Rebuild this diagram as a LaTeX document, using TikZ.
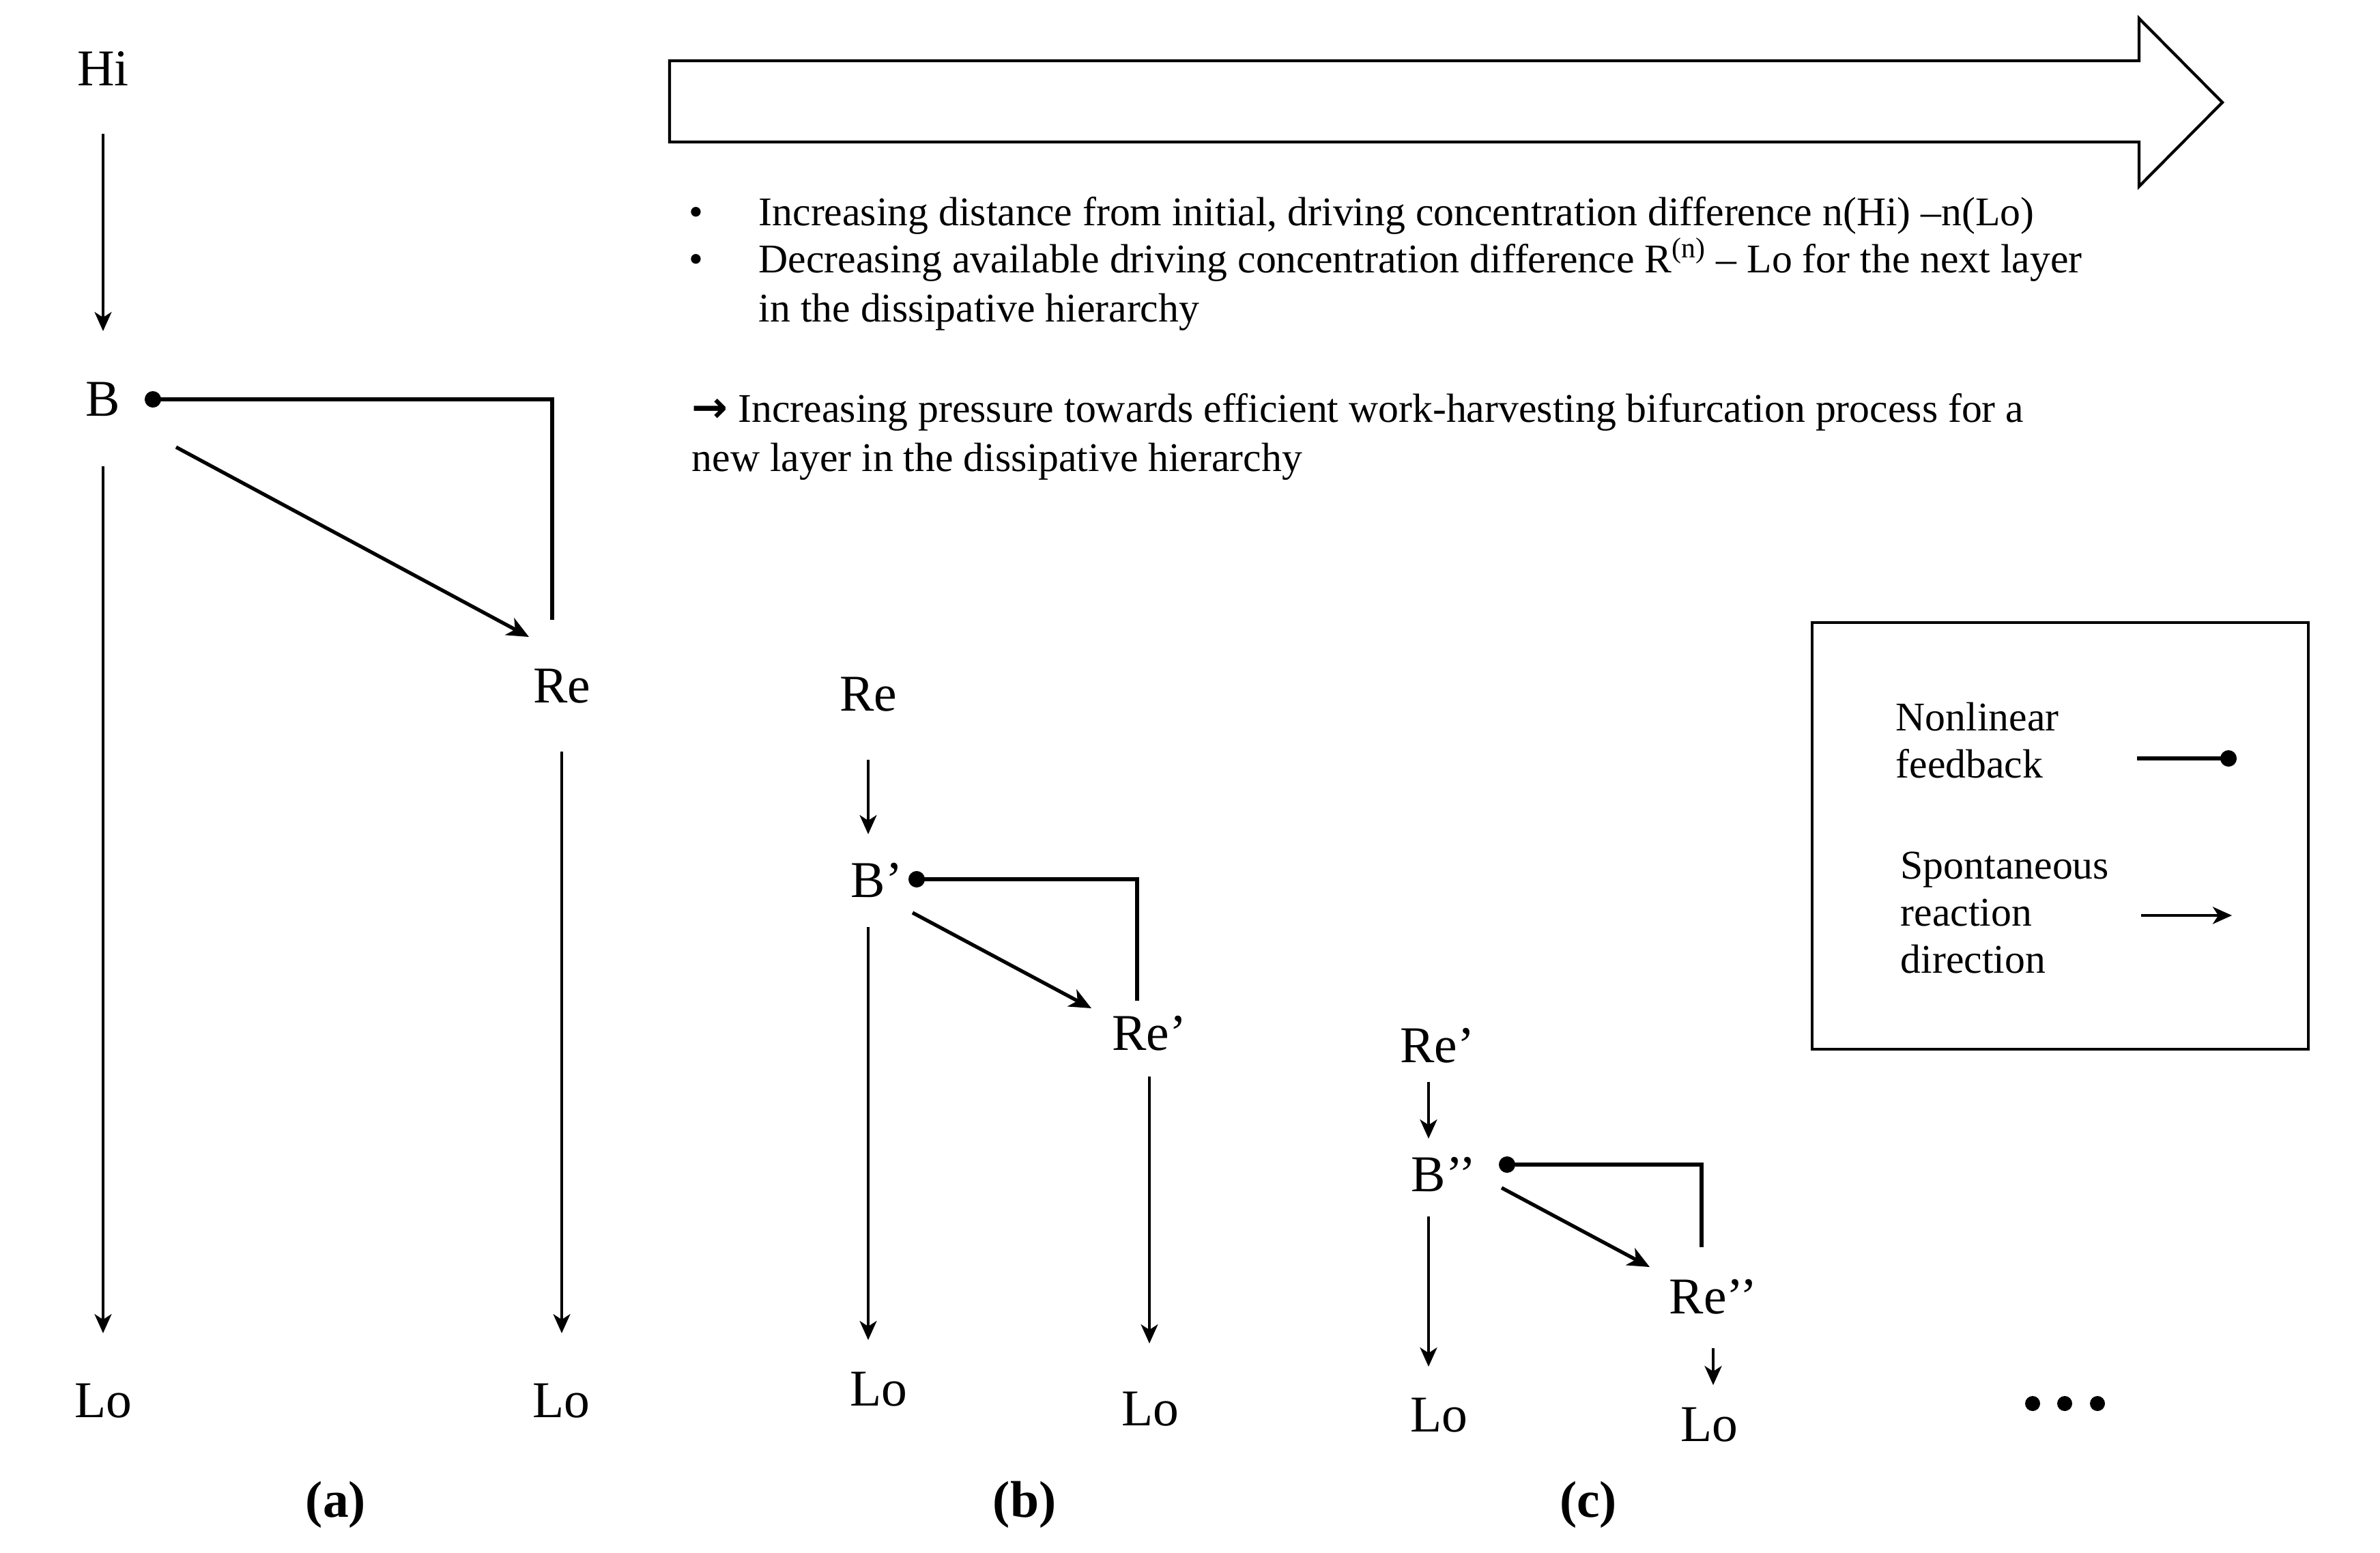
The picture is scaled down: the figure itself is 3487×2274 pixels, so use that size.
\documentclass[tikz,border=0pt]{standalone}
\usepackage{fontspec}
\setmainfont{Liberation Serif}
\newfontfamily\arrowfont{DejaVu Sans}
\usetikzlibrary{positioning,arrows.meta,calc}

\begin{document}
\begin{tikzpicture}[x=0.1mm,y=-0.1mm,
      lbl/.style={font=\fontsize{21.5}{24}\selectfont,inner sep=0pt},
      tag/.style={font=\fontsize{21.5}{24}\selectfont\bfseries,inner sep=0pt},
      txt/.style={font=\fontsize{17}{20.3}\selectfont,inner sep=0pt,anchor=base west},
      key/.style={txt,font=\fontsize{17}{19.6}\selectfont,align=left},
      rxn/.style={-{Stealth[length=2.8mm,width=2.5mm,inset=0.8mm]},line width=1pt},
      diag/.style={rxn,line width=1.5pt,-{Stealth[length=3.2mm,width=2.8mm,inset=0.9mm]}},
      fbk/.style={-{Circle[length=2.4mm]},line width=1.5pt},
      gaps/.style 2 args={shorten <=#1mm,shorten >=#2mm},
      bigarrow/.style={line width=1.2pt,line join=miter}]
    \useasboundingbox (0,0) rectangle (3487,2274);
    % direction arrow and notes (multi-line nodes sit on their last baseline)
    \draw[bigarrow] (981,89) -- (3134,89) -- (3134,27) -- (3256,150) -- (3134,273) -- (3134,208) -- (981,208) -- cycle;
    \node[txt,anchor=base] (dot1) at (1020,330) {•};
    \node[txt] (item1) at (1111,330) {Increasing distance from initial, driving concentration difference n(Hi) –n(Lo)};
    \node[txt,anchor=base] (dot2) at (1020,399) {•};
    \node[txt,align=left] (item2) at (1111,471) {Decreasing available driving concentration difference R\textsuperscript{(n)} – Lo for the next layer\\in the dissipative hierarchy};
    \node[txt,align=left] (concl) at (1013,690) {{\arrowfont\bfseries\fontsize{18}{18}\selectfont →} Increasing pressure towards efficient work-harvesting bifurcation process for a\\new layer in the dissipative hierarchy};
    % (a)
    \node[lbl] (hi) at (151,100) {Hi};
    \node[lbl] (ba) at (151,585) {B};
    \node[lbl] (rea) at (823,1005) {Re};
    \node[lbl] (loa1) at (151,2052) {Lo};
    \node[lbl] (loa2) at (822,2052) {Lo};
    \node[tag] (taga) at (492,2204) {(a)};
    \draw[rxn,gaps={9.6}{10}] (hi.center) -- (hi.center |- ba.center);
    \draw[rxn,gaps={9.8}{9.9}] (ba.center) -- (ba.center |- loa1.center);
    \draw[rxn,gaps={9.6}{9.9}] (rea.center) -- (rea.center |- loa2.center);
    \draw[diag] ([shift={(107,70)}]ba.center) -- ([shift={(-48,-72)}]rea.center);
    \draw[fbk] ([shift={(-14,-97)}]rea.center) |- ([shift={(61,0)}]ba.center);
    % (b)
    \node[lbl] (reb) at (1272,1017) {Re};
    \node[lbl] (bb) at (1272,1289) {B\rlap{’}};
    \node[lbl] (rebp) at (1684,1514) {Re’};
    \node[lbl] (lob1) at (1287,2035) {Lo};
    \node[lbl] (lob2) at (1685,2064) {Lo};
    \node[tag] (tagb) at (1501,2204) {(b)};
    \draw[rxn,gaps={9.6}{6.7}] (reb.center) -- (reb.center |- bb.center);
    \draw[rxn,gaps={6.9}{7.2}] (bb.center) -- (bb.center |- lob1.center);
    \draw[rxn,gaps={6.3}{9.6}] (rebp.center) -- (rebp.center |- lob2.center);
    \draw[diag] ([shift={(65,48)}]bb.center) -- ([shift={(-85,-37)}]rebp.center);
    \draw[fbk] ([shift={(-18,-48)}]rebp.center) |- ([shift={(59,-1)}]bb.center);
    % (c)
    \node[lbl] (rec) at (2093,1532) {Re\rlap{’}};
    \node[lbl] (bc) at (2093,1720) {B\rlap{’’}};
    \node[lbl] (recp) at (2510,1900) {Re’’};
    \node[lbl] (loc1) at (2108,2073) {Lo};
    \node[lbl] (loc2) at (2504,2087) {Lo};
    \node[tag] (tagc) at (2327,2204) {(c)};
    \draw[rxn,line width=1.3pt,gaps={5.3}{5.2}] (rec.center) -- (rec.center |- bc.center);
    \draw[rxn,line width=1.3pt,gaps={6.2}{7.1}] (bc.center) -- (bc.center |- loc1.center);
    \draw[rxn,line width=1.3pt,gaps={7.5}{5.8}] (recp.center) -- (recp.center |- loc2.center);
    \draw[diag] ([shift={(107,20)}]bc.center) -- ([shift={(-93,-44)}]recp.center);
    \draw[fbk] ([shift={(-17,-73)}]recp.center) |- ([shift={(103,-14)}]bc.center);
    % more layers
    \foreach \x in {2978,3025,3073}
      \fill (\x,2056) circle[radius=11];
    % legend
    \draw[line width=1pt] (2655,912) rectangle (3382,1537);
    \node[key] (keyfb) at (2777,1139) {Nonlinear\\feedback};
    \node[key] (keyrx) at (2784,1425) {Spontaneous\\reaction\\direction};
    \coordinate (fbA) at (3131,1111);
    \coordinate (fbB) at (3277,1111);
    \coordinate (rxA) at (3137,1341);
    \coordinate (rxB) at (3270,1341);
    \draw[fbk] (fbA) -- (fbB);
    \draw[rxn,line width=1.2pt] (rxA) -- (rxB);
  \end{tikzpicture}
\end{document}
